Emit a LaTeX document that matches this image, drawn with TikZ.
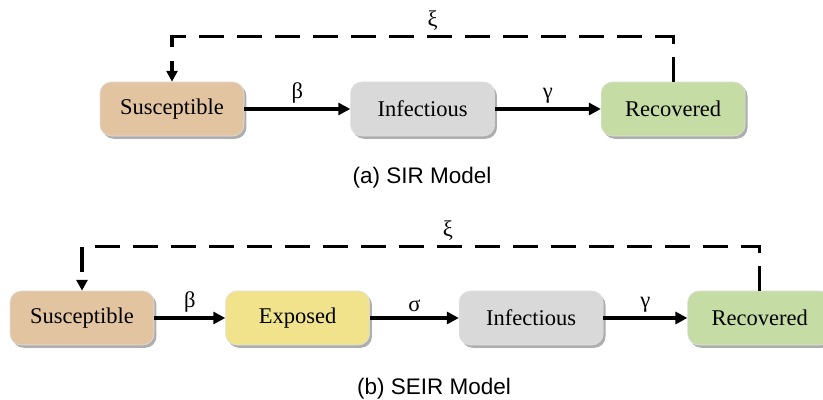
\documentclass[tikz,border=0pt]{standalone}
\usepackage{fontspec}
\setmainfont{Liberation Serif}
\newfontfamily\capfont{Liberation Sans}
\usepackage{tikz}
\usetikzlibrary{positioning, arrows.meta, shadows}
\definecolor{suscol}{HTML}{E3C4A0}
\definecolor{expcol}{HTML}{F0E38C}
\definecolor{infcol}{HTML}{D9D9D9}
\definecolor{reccol}{HTML}{C5DDA5}
\tikzset{
    comp/.style={rectangle, rounded corners=0.28cm, draw=black!12, thin, minimum width=3.6cm, minimum height=1.35cm, inner sep=0pt, font=\fontsize{16}{19}\selectfont, drop shadow={shadow xshift=0.06cm, shadow yshift=-0.07cm, fill=black!45, opacity=0.7}},
    rate/.style={font=\fontsize{16}{19}\selectfont, inner sep=3pt},
    flow/.style={-{Triangle[length=0.3cm, width=0.3cm]}, line width=0.08cm},
    feedback/.style={-{Triangle[length=0.27cm, width=0.27cm]}, line width=0.08cm, dash pattern=on 0.62cm off 0.33cm},
    caption/.style={font=\capfont\fontsize{16}{19}\selectfont}
}
\begin{document}
\begin{tikzpicture}
    \useasboundingbox (0,0) rectangle (20.575,10);

    % SIR model
    \node[comp, fill=suscol] (S1) at (4.3,7.275) {Susceptible};
    \node[comp, fill=infcol, right=2.65cm of S1] (I1) {Infectious};
    \node[comp, fill=reccol, right=2.65cm of I1] (R1) {Recovered};
    \draw[flow] (S1) -- node[rate, above] {β} (I1);
    \draw[flow] (I1) -- node[rate, above] {γ} (R1);
    \draw[feedback] (R1.north) -- ++(0,1.125) -| node[rate, pos=0.24, above] {ξ} (S1.north);
    \node[caption] (capA) at (10.55,5.55) {(a) SIR Model};

    % SEIR model
    \node[comp, fill=suscol] (S2) at (2.05,2.05) {Susceptible};
    \node[comp, fill=expcol, right=1.775cm of S2] (E2) {Exposed};
    \node[comp, fill=infcol, right=2.225cm of E2] (I2) {Infectious};
    \node[comp, fill=reccol, right=2.1cm of I2] (R2) {Recovered};
    \draw[flow] (S2) -- node[rate, above] {β} (E2);
    \draw[flow] (E2) -- node[rate, above] {σ} (I2);
    \draw[flow] (I2) -- node[rate, above] {γ} (R2);
    \draw[feedback] (R2.north) -- ++(0,1.1) -| node[rate, pos=0.23, above] {ξ} (S2.north);
    \node[caption, anchor=base] (capB) at (10.85,0.13) {(b) SEIR Model};
\end{tikzpicture}
\end{document}
